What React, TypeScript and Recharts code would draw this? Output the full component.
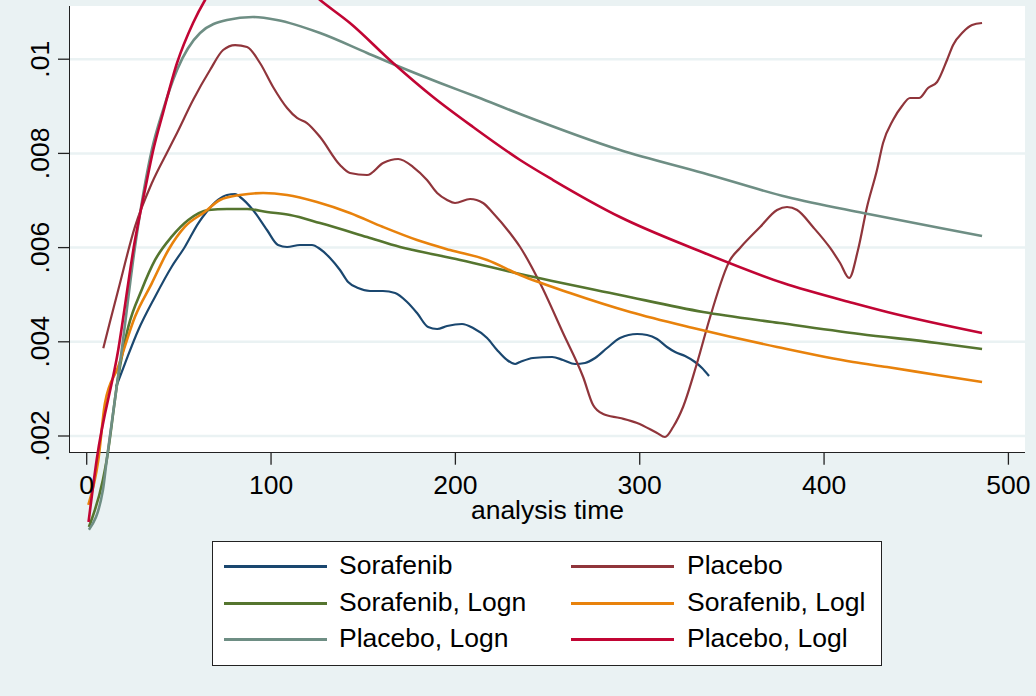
import React from "react";
import { LineChart, Line, XAxis, YAxis, CartesianGrid } from "recharts";

// smoothed hazard (Kaplan-Meier based), Sorafenib arm
const sorafenibTime = [16, 20.8, 28.0, 37.1, 46.1, 53.3, 60.5, 65.1, 71.2, 76.1, 80.5, 83.2, 90.2, 97.8, 103.8, 108.7, 115.7, 122.2, 126.6, 132.0, 137.4, 141.8, 147.2, 153.7, 160.7, 167.3, 173.8, 179.2, 185.2, 190.1, 195.5, 203.6, 209.6, 217.2, 222.6, 228.0, 232.4, 235.1, 242.1, 252.5, 258.4, 264.9, 270.3, 275.8, 282.3, 289.3, 298.6, 304.0, 309.4, 314.8, 319.2, 324.6, 330.0, 333.8, 337.6];
const sorafenibHaz = [0.00305, 0.003543, 0.004251, 0.004958, 0.005594, 0.006019, 0.006516, 0.006762, 0.007011, 0.007117, 0.007138, 0.007074, 0.006798, 0.006374, 0.006055, 0.006013, 0.006055, 0.006055, 0.00597, 0.005779, 0.005524, 0.00527, 0.005142, 0.005079, 0.005079, 0.005036, 0.004845, 0.004611, 0.004314, 0.004272, 0.004335, 0.004378, 0.004293, 0.004081, 0.003826, 0.003614, 0.003529, 0.003571, 0.003656, 0.003677, 0.003614, 0.003529, 0.00355, 0.003656, 0.003868, 0.004081, 0.004166, 0.004144, 0.004059, 0.00389, 0.003783, 0.003698, 0.003571, 0.003444, 0.003274];

// smoothed hazard, Placebo arm
const placeboTime = [9.0, 12.6, 17.1, 26.2, 35.3, 44.3, 49.0, 57.7, 66.9, 74.0, 80.5, 87.0, 94.0, 101.1, 108.7, 114.1, 119.5, 126.6, 137.4, 142.8, 152.1, 160.8, 169.0, 177.1, 184.6, 190.1, 195.5, 199.8, 208.0, 215.0, 220.4, 229.6, 235.1, 245.9, 258.4, 269.3, 274.7, 280.1, 289.3, 298.6, 309.4, 313.7, 318.1, 323.5, 331.1, 338.2, 349.0, 354.4, 365.3, 374.5, 379.9, 385.4, 394.0, 403.3, 408.7, 413.6, 418.4, 423.3, 428.7, 432.0, 437.4, 442.3, 446.6, 451.5, 456.4, 461.3, 466.7, 470.0, 475.4, 480.3, 485.7];
const placeboHaz = [0.003862, 0.00442, 0.0051, 0.006444, 0.007365, 0.008072, 0.008433, 0.009134, 0.009771, 0.010195, 0.010301, 0.010259, 0.009919, 0.00941, 0.008964, 0.008752, 0.008645, 0.008348, 0.007754, 0.007584, 0.007541, 0.007796, 0.007881, 0.007711, 0.007435, 0.007159, 0.007011, 0.006947, 0.007032, 0.006947, 0.006735, 0.00631, 0.006013, 0.005248, 0.004187, 0.003253, 0.002658, 0.002467, 0.002382, 0.002276, 0.002064, 0.001979, 0.002191, 0.002616, 0.00355, 0.004527, 0.005737, 0.005992, 0.006437, 0.006798, 0.006862, 0.006798, 0.006437, 0.005992, 0.005673, 0.005355, 0.005949, 0.006862, 0.007648, 0.008221, 0.008709, 0.009006, 0.009176, 0.009176, 0.009389, 0.009516, 0.009983, 0.010301, 0.010577, 0.010726, 0.010769];

// lognormal fit, Sorafenib
const sorLognTime = [1.2, 8.8, 10.85, 17.1, 22.6, 29.8, 37.1, 46.1, 55.1, 66.0, 76.1, 87.0, 97.8, 110.3, 126.6, 152.1, 170.0, 177.1, 202.6, 235.1, 289.3, 334.4, 376.0, 419.4, 461.3, 485.7];
const sorLognHaz = [0.000068, 0.00107, 0.00149, 0.003259, 0.004321, 0.0051, 0.005737, 0.006232, 0.006586, 0.006798, 0.00682, 0.00682, 0.006756, 0.006692, 0.006522, 0.006225, 0.006013, 0.005949, 0.005737, 0.005439, 0.004994, 0.004633, 0.004399, 0.004166, 0.003975, 0.003847];

// loglogistic fit, Sorafenib
const sorLoglTime = [0.9, 6.3, 9.9, 17.1, 26.2, 35.3, 44.3, 53.3, 64.2, 72.3, 83.2, 95.7, 108.7, 124.9, 142.8, 160.8, 179.2, 197.1, 217.2, 235.1, 262.2, 294.8, 329.0, 374.5, 415.7, 434.2, 461.3, 485.7];
const sorLoglHaz = [0.000535, 0.00149, 0.002694, 0.003471, 0.004533, 0.005242, 0.005949, 0.006444, 0.006762, 0.007011, 0.007117, 0.007159, 0.007117, 0.006968, 0.006735, 0.006437, 0.006161, 0.005949, 0.005737, 0.005418, 0.005036, 0.004633, 0.004293, 0.00389, 0.003571, 0.003465, 0.003295, 0.003147];

// lognormal fit, Placebo
const plaLognTime = [1.2, 8.8, 10.85, 19.0, 26.2, 33.4, 35.3, 41.4, 49.0, 61.5, 76.1, 90.2, 103.2, 126.6, 152.1, 170.0, 191.7, 211.8, 235.1, 289.3, 334.4, 380.0, 421.2, 463.0, 485.7];
const plaLognHaz = [0.00001, 0.000854, 0.00149, 0.003826, 0.006019, 0.007718, 0.008072, 0.008921, 0.009771, 0.010556, 0.010832, 0.010896, 0.010832, 0.010556, 0.010132, 0.009834, 0.009495, 0.009197, 0.008837, 0.008072, 0.007584, 0.007074, 0.006735, 0.006416, 0.006246];

// loglogistic fit, Placebo (peak runs off the top of the graph)
const plaLoglTime = [1.0, 5.4, 17.1, 26.2, 31.6, 36.1, 41.4, 49.0, 57.7, 64.2, 72, 80, 88, 96, 105, 115, 126.6, 142.8, 166.2, 187.9, 209.6, 235.1, 253.0, 289.3, 331.1, 377.8, 415.7, 434.2, 485.7];
const plaLoglHaz = [0.000174, 0.00149, 0.003826, 0.006161, 0.007223, 0.008072, 0.008858, 0.009919, 0.010769, 0.011257, 0.0117, 0.01195, 0.01205, 0.01203, 0.0119, 0.01165, 0.011257, 0.010769, 0.009919, 0.009197, 0.00856, 0.00786, 0.007435, 0.00665, 0.005949, 0.005248, 0.004824, 0.004633, 0.004187];

const xTicks = [0, 100, 200, 300, 400, 500];
const yTicks = [0.002, 0.004, 0.006, 0.008, 0.01];
const yTickLabels = [".002", ".004", ".006", ".008", ".01"];

const toPoints = (t: number[], v: number[]) => t.map((x, i) => ({ t: x, v: v[i] }));

const series = [
  { name: "Sorafenib", color: "#1A476F", width: 2.2, data: toPoints(sorafenibTime, sorafenibHaz) },
  { name: "Placebo", color: "#90353B", width: 2.2, data: toPoints(placeboTime, placeboHaz) },
  { name: "Sorafenib, Logn", color: "#55752F", width: 2.6, data: toPoints(sorLognTime, sorLognHaz) },
  { name: "Sorafenib, Logl", color: "#E8820C", width: 2.6, data: toPoints(sorLoglTime, sorLoglHaz) },
  { name: "Placebo, Logn", color: "#6E8E84", width: 2.6, data: toPoints(plaLognTime, plaLognHaz) },
  { name: "Placebo, Logl", color: "#C10534", width: 2.6, data: toPoints(plaLoglTime, plaLoglHaz) },
];

const W = 1036;
const H = 696;
const BG = "#EAF2F3";
const FONT = '"Liberation Sans", Arial, Helvetica, sans-serif';
const AXIS_Y = 452.7;
const FRAME_TOP = 6;
const PLOT_LEFT = 70;
const PLOT_RIGHT = 1025;

const XTick = (props: any) => {
  const { x, payload } = props;
  return (
    <g>
      <line x1={x} x2={x} y1={AXIS_Y} y2={AXIS_Y + 12} stroke="#222" strokeWidth={1.3} />
      <text x={x} y={AXIS_Y + 41} textAnchor="middle" fontSize={26.5} fontFamily={FONT} fill="#000">
        {payload.value}
      </text>
    </g>
  );
};

const YTick = (props: any) => {
  const { y, payload } = props;
  const lx = 49.5;
  return (
    <text x={lx} y={y} transform={`rotate(-90 ${lx} ${y})`} textAnchor="middle" fontSize={26.5} fontFamily={FONT} fill="#000">
      {yTickLabels[yTicks.indexOf(payload.value)]}
    </text>
  );
};

const AxisTitle = () => (
  <text x={(PLOT_LEFT + PLOT_RIGHT) / 2} y={519} textAnchor="middle" fontSize={26.5} fontFamily={FONT} fill="#000">
    analysis time
  </text>
);

const Legend6 = () => {
  const rows = [24, 61, 97];
  return (
    <div
      style={{
        position: "absolute",
        left: 212,
        top: 541,
        width: 670,
        height: 125,
        boxSizing: "border-box",
        border: "1.3px solid #222",
        background: "#fff",
        fontFamily: FONT,
        fontSize: 26.5,
        color: "#000",
      }}
    >
      {series.map((s, i) => {
        const col = i % 2;
        const row = Math.floor(i / 2);
        const lineLeft = col === 0 ? 11 : 358;
        const textLeft = col === 0 ? 126 : 474;
        return (
          <React.Fragment key={s.name}>
            <div
              style={{
                position: "absolute",
                left: lineLeft,
                top: rows[row] - 1.5,
                width: 103,
                height: 3,
                background: s.color,
              }}
            />
            <div style={{ position: "absolute", left: textLeft, top: rows[row] - 16, lineHeight: "30px", whiteSpace: "nowrap" }}>
              {s.name}
            </div>
          </React.Fragment>
        );
      })}
    </div>
  );
};

export default function App() {
  return (
    <div style={{ position: "absolute", left: 0, top: 0, width: W, height: H, background: BG, overflow: "hidden" }}>
      <div
        style={{
          position: "absolute",
          left: PLOT_LEFT - 0.75,
          top: FRAME_TOP,
          width: PLOT_RIGHT - PLOT_LEFT + 0.75,
          height: AXIS_Y - FRAME_TOP + 0.75,
          boxSizing: "border-box",
          background: "#fff",
          borderLeft: "1.5px solid #222",
          borderBottom: "1.5px solid #222",
        }}
      />
      <LineChart
        width={W}
        height={H}
        margin={{ top: 0, right: W - PLOT_RIGHT, bottom: 131, left: 0 }}
        style={{ position: "absolute", left: 0, top: 0 }}
      >
        <CartesianGrid horizontal vertical={false} stroke={BG} strokeWidth={2.5} />
        <XAxis
          type="number"
          dataKey="t"
          domain={[-9.06, 509.0]}
          allowDataOverflow
          ticks={xTicks}
          interval={0}
          axisLine={false}
          tickLine={false}
          tick={<XTick />}
          height={30}
          label={<AxisTitle />}
        />
        <YAxis
          type="number"
          domain={[-0.000102, 0.011257]}
          allowDataOverflow
          ticks={yTicks}
          interval={0}
          width={70}
          axisLine={false}
          tickSize={12}
          tickLine={{ stroke: "#222", strokeWidth: 1.3 }}
          tick={<YTick />}
        />
        {series.map((s) => (
          <Line
            key={s.name}
            data={s.data}
            dataKey="v"
            name={s.name}
            type="monotoneX"
            stroke={s.color}
            strokeWidth={s.width}
            dot={false}
            activeDot={false}
            isAnimationActive={false}
          />
        ))}
      </LineChart>
      <Legend6 />
    </div>
  );
}
